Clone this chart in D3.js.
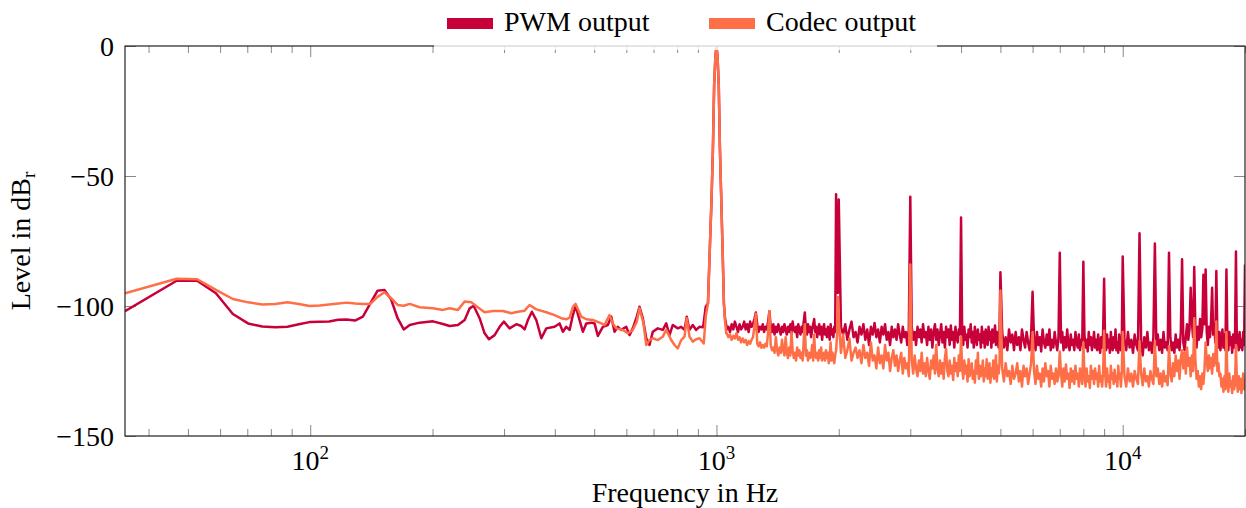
<!DOCTYPE html>
<html>
<head>
<meta charset="utf-8">
<style>
body { margin: 0; background: #fff; }
svg text { font-family: "Liberation Serif", "Times New Roman", "DejaVu Serif", serif; fill: #000; }
</style>
</head>
<body>
<div id="chart"></div>
<script src="https://d3js.org/d3.v7.min.js"></script>
<script>
// series names and colours
const seriesNames = ["PWM output", "Codec output"];
const seriesColors = ["#c8003a", "#ff6f47"];

// axis ticks
const xMajor = [100, 1000, 10000];
const xMajorExp = ["2", "3", "4"];
const xMinor = [40, 50, 60, 70, 80, 90, 200, 300, 400, 500, 600, 700, 800, 900,
  2000, 3000, 4000, 5000, 6000, 7000, 8000, 9000, 20000];
const yTicks = [0, -50, -100, -150];
const yTickLabels = ["0", "\u221250", "\u2212100", "\u2212150"];

// low part of the spectrum, [Hz, dB]
const pwmLow = [
  [35,-102],[46.9,-90.3],[52.7,-90.3],[58.6,-95.1],[64.5,-103.1],[70.3,-106.7],[76.2,-107.9],[82,-108.2],
  [87.9,-108],[93.75,-107],[99.6,-106.2],[105.5,-106.1],[111.3,-106],[117.2,-105.3],[123,-105.2],[128.9,-105.6],
  [134.8,-104.1],[140.6,-99],[146.5,-94.1],[152.3,-93.8],[158.2,-97.5],[164.1,-104.7],[169.9,-109],[175.8,-107.3],
  [185.9,-106.4],[200.5,-105.9],[212.2,-106.9],[220.4,-107.7],[231,-107.3],[240,-105.4],[246.9,-100.9],[252.5,-99.9],
  [261.2,-104.7],[268.7,-110.5],[275.4,-112.8],[284.4,-111.2],[292.6,-108],[299.8,-106],[309.6,-108.6],[321.6,-107],
  [330.8,-107.7],[337.1,-109],[343.4,-105.4],[351.3,-102.2],[360.2,-105.4],[370.6,-112.4],[381.2,-108.6],[399.5,-108],
  [411,-106.7],[418.8,-109.9],[426.9,-108],[435,-109.2],[443.2,-103.5],[450,-100],[460.3,-105.4],[469,-109.9],
  [478.1,-106.7],[491.9,-106.4],[501.1,-106.7],[510.5,-111.5],[525.2,-108],[540.3,-107.3],[550.8,-104.1],[561.2,-109.9],
  [571.7,-108],[582.9,-109.2],[599.6,-108],[610.9,-111.2],[622.4,-108.6],[636.6,-104.1],[646.5,-100.3],[658.7,-104.7],
  [671.6,-112.4],[684.2,-115],[697.1,-109.9],[717.1,-108.6],[737.8,-109.2],[752.2,-106.7],[766.3,-111.2],[780.8,-107.3],
  [803.2,-108.6],[818.9,-108],[834.3,-109.2],[845.1,-104.1],[858.2,-109.2],[874.4,-107.3],[891.3,-109.2],[908.2,-108],
  [927,-108.2],[941,-100.3],[953,-99],[962,-80],[972,-60],[980,-40],[987,-15],[994,-4],[1000,0],[1006,-4],
  [1013,-15],[1020,-40],[1028,-60],[1036,-80],[1043,-99],[1050,-105],[1057,-107.3]
];
const codecLow = [
  [35,-95.1],[46.9,-89.5],[52.7,-89.7],[58.6,-93.8],[64.5,-97.3],[70.3,-98.6],[76.2,-99.4],[82,-99.2],
  [87.9,-98.6],[93.75,-99.2],[99.6,-100],[105.5,-99.8],[111.3,-99.4],[117.2,-99],[123,-98.7],[128.9,-99],
  [134.8,-99.2],[140.6,-99.2],[146.5,-96.5],[152.3,-94.7],[158.2,-97],[164.1,-99.6],[169.9,-99.9],[175.8,-99.2],
  [185.9,-100.5],[200.5,-100.9],[212.2,-101.5],[220.4,-100.9],[231,-101.5],[240,-98.3],[249.5,-98.6],[258.6,-100.5],
  [268.7,-102.4],[281.6,-101.9],[298.1,-101.9],[312.6,-102.8],[324.5,-102.2],[337.1,-101.8],[346.7,-99.6],[360.2,-101.3],
  [381.2,-102.4],[399.5,-103.5],[415,-104.7],[426.9,-105.1],[435,-104.5],[443.2,-100.3],[450,-99.2],[464.8,-104.1],
  [478.1,-105.1],[496.3,-105.4],[515.5,-106.4],[530.3,-107.3],[545.5,-103.5],[555.8,-106.7],[566.6,-108.6],[588.2,-109.2],
  [605,-110.5],[622.4,-109.2],[636.6,-106],[646.5,-100.9],[661.3,-106.7],[671.6,-115],[684.2,-113.1],[697.1,-112.4],
  [717.1,-113.1],[737.8,-111.8],[752.2,-109.2],[773.8,-113.1],[788.4,-115],[803.2,-116.3],[818.9,-113.1],[834.3,-111.8],
  [845.1,-104.7],[858.2,-111.8],[874.4,-113.7],[891.3,-112.8],[908.2,-112.4],[930.5,-114.4],[941,-104.1],[953,-99],
  [962,-80],[972,-60],[980,-40],[987,-15],[994,-4],[1000,0],[1006,-4],[1013,-15],[1020,-40],[1028,-60],
  [1036,-80],[1043,-99],[1050,-106],[1057,-110.5]
];

// upper part: shared frequency grid (Hz) and levels (dB) for both outputs
const hzA = [
  1060,1070,1080,1090,1100,1110,1120,1130,1140,1150,
  1160,1170,1180,1190,1200,1210,1220,1230,1240,1250,
  1260,1270,1280,1290,1300,1310,1320,1330,1340,1350,
  1360,1370,1380,1390,1400,1410,1420,1430,1440,1450,
  1460,1470,1480,1490,1500,1510,1520,1530,1540,1550,
  1560,1570,1580,1590,1600,1610,1620,1630,1640,1650,
  1660,1670,1680,1690,1700,1710,1720,1730,1740,1750,
  1760,1770,1780,1790,1800,1810,1820,1830,1840,1850,
  1860,1870,1880,1890,1900,1910,1920,1930,1940,1950,
  1960,1970,1980,1990
];
const pwmA = [
  -109,-108,-110,-107,-109,-106,-108,-110,-107,-109,
  -108,-106,-109,-107,-110,-106,-108,-107,-105,-102.5,
  -107,-110,-108,-109,-107,-110,-108,-109,-106,-102,
  -108,-110,-107,-111,-108,-110,-107,-109,-111,-108,
  -110,-107,-109,-111,-108,-110,-107,-111,-106,-109,
  -110,-108,-112,-107,-109,-111,-108,-110,-106,-102.5,
  -109,-111,-107,-110,-108,-112,-109,-107,-105,-110,
  -108,-112,-109,-107,-111,-108,-113,-109,-107,-111,
  -109,-112,-108,-110,-113,-107,-111,-109,-112,-108,
  -110,-57,-92,-95
];
const codecA = [
  -110.5,-112,-111,-113,-111.5,-112.5,-110.5,-113,-112,-114,
  -112.5,-114,-113,-115,-113.5,-114.5,-113,-112,-108,-103,
  -114.5,-115.5,-114,-116,-115,-116,-114.5,-115.5,-110,-102,
  -115,-117,-116,-118,-112,-117,-119,-116,-118,-113,
  -117,-119,-112,-118,-120,-116,-119,-110,-117,-120,
  -118,-121,-116,-119,-117,-120,-118,-121,-113,-107,
  -119,-117,-121,-118,-120,-119,-115,-121,-111,-119,
  -120,-118,-121,-117,-120,-116,-121,-119,-118,-121,
  -117,-120,-118,-122,-119,-114,-121,-118,-120,-122,
  -119,-117,-112,-96.5
];

const hzB = [
  2000,2025,2050,2075,2100,2125,2150,2175,2200,2225,
  2250,2275,2300,2325,2350,2375,2400,2425,2450,2475,
  2500,2525,2550,2575,2600,2625,2650,2675,2700,2725,
  2750,2775,2800,2825,2850,2875,2900,2925,2950,2975,
  3000,3025,3050,3075,3100,3125,3150,3175,3200,3225,
  3250,3275,3300,3325,3350,3375,3400,3425,3450,3475,
  3500,3525,3550,3575,3600,3625,3650,3675,3700,3725,
  3750,3775,3800,3825,3850,3875,3900,3925,3950,3975,
  4000,4025,4050,4075,4100,4125,4150,4175,4200,4225,
  4250,4275,4300,4325,4350,4375,4400,4425,4450,4475,
  4500,4525,4550,4575,4600,4625,4650,4675,4700,4725,
  4750,4775,4800,4825,4850,4875,4900,4925,4950,4975
];
const pwmB = [
  -59,-108,-111,-107,-113,-109,-106,-112,-110,-114,
  -108,-111,-107,-113,-109,-115,-108,-111,-106.5,-112,
  -109,-114,-108,-111,-107,-113,-110,-115,-108,-112,
  -109,-113,-107,-111,-114,-108,-112,-110,-115,-109,
  -58,-108,-113,-110,-115,-108,-112,-109,-114,-107,
  -112,-110,-115,-108,-113,-109,-116,-110,-107,-113,
  -109,-115,-111,-107,-114,-110,-116,-108,-112,-109,
  -115,-107.5,-113,-110,-116,-108,-112,-114,-109,-111,
  -66,-110,-115,-108,-113,-111,-116,-109,-112,-107,
  -114,-110,-116,-108,-112,-115,-109,-113,-111,-116,
  -108,-114,-110,-116,-109,-112,-115,-108,-113,-110,
  -116,-109,-114,-111,-107.5,-115,-110,-113,-116,-109
];
const codecB = [
  -105,-118,-111,-120,-117,-112.5,-121,-118,-116,-120,
  -117,-122,-115,-120,-118,-123,-114,-121,-119,-124,
  -116,-122,-119,-124,-115,-121,-118,-125,-120,-117,
  -123,-119,-125,-121,-118,-126,-120,-124,-122,-127,
  -84,-121,-126,-119,-124,-127,-121,-125,-118,-126,
  -122,-127,-120,-125,-128,-121,-124,-119,-126,-115,
  -124,-127,-121,-126,-122,-128,-120,-116.5,-125,-127,
  -121,-126,-123,-128.5,-120,-125,-122,-127,-119,-125,
  -112,-124,-128,-121,-126,-123,-129,-120.5,-127,-124,
  -122,-128,-125,-129.5,-121,-126,-118,-128,-123,-127,
  -125,-121,-129,-124,-127,-120.5,-128,-125,-122,-129.5,
  -124,-127,-121,-128,-125,-119,-129,-123,-126,-122
];

const hzC = [
  5000,5050,5100,5150,5200,5250,5300,5350,5400,5450,
  5500,5550,5600,5650,5700,5750,5800,5850,5900,5950,
  6000,6050,6100,6150,6200,6250,6300,6350,6400,6450,
  6500,6550,6600,6650,6700,6750,6800,6850,6900,6950,
  7000,7050,7100,7150,7200,7250,7300,7350,7400,7450,
  7500,7550,7600,7650,7700,7750,7800,7850,7900,7950,
  8000,8050,8100,8150,8200,8250,8300,8350,8400,8450,
  8500,8550,8600,8650,8700,8750,8800,8850,8900,8950,
  9000,9050,9100,9150,9200,9250,9300,9350,9400,9450,
  9500,9550,9600,9650,9700,9750,9800,9850,9900,9950
];
const pwmC = [
  -87,-110,-116,-112,-117,-109,-114,-111,-117,-110,
  -115,-112,-117,-109,-113,-116,-110,-114,-117,-111,
  -94.5,-113,-117,-110,-115,-112,-117.5,-109,-114,-116,
  -111,-115,-109,-117,-113,-116,-110,-114,-117,-112,
  -79.5,-114,-110,-117,-112,-116,-109,-115,-117,-111,
  -115,-113,-117,-110,-114,-116,-111,-117,-113,-115,
  -83,-111,-116,-113,-117.5,-110,-115,-112,-117,-114,
  -110,-116,-113,-117,-111,-115,-118,-112,-116,-110,
  -89.5,-114,-117,-111,-116,-113,-118,-110,-115,-117,
  -112,-116,-109,-117,-114,-118,-111,-115,-117,-113
];
const codecC = [
  -94,-124,-129,-122,-127,-125,-130,-123,-128,-126,
  -122,-129,-125,-131,-123,-127,-124,-130,-126,-122,
  -110,-125,-130,-123,-128,-126,-131,-124,-129,-122,
  -127,-125,-131,-123,-128,-126,-130,-124,-129,-127,
  -117.5,-126,-131,-124,-129,-122.5,-128,-126,-131.5,-124,
  -129,-125,-130,-123,-128,-126,-131,-124,-127,-130,
  -114,-126,-131,-124,-129,-127,-131.5,-123,-128,-125,
  -130,-124,-128,-126,-131,-123,-129,-127,-131,-125,
  -109.5,-126,-131,-124,-129,-127,-131.5,-123,-128,-126,
  -130,-124.5,-129,-127,-131,-123,-128,-126,-131,-125
];

const hzD = [
  10000,10100,10200,10300,10400,10500,10600,10700,10800,10900,
  11000,11100,11200,11300,11400,11500,11600,11700,11800,11900,
  12000,12100,12200,12300,12400,12500,12600,12700,12800,12900,
  13000,13100,13200,13300,13400,13500,13600,13700,13800,13900,
  14000,14100,14200,14300,14400,14500,14600,14700,14800,14900,
  15000,15100,15200,15300,15400,15500,15600,15700,15800,15900,
  16000,16100,16200,16300,16400,16500,16600,16700,16800,16900,
  17000,17100,17200,17300,17400,17500,17600,17700,17800,17900,
  18000,18100,18200,18300,18400,18500,18600,18700,18800,18900,
  19000,19100,19200,19300,19400,19500,19600,19700,19800,19900,
  20000
];
const pwmD = [
  -81,-113,-117,-110,-116,-113,-118,-111,-115,-117,
  -72,-114,-119,-112,-116,-110,-117,-114,-118,-112,
  -76,-115,-111,-117,-113,-118,-110,-116,-114,-117,
  -79.5,-112,-117,-114,-118,-111,-116,-113,-117,-110,
  -82,-114,-117,-112,-107,-113,-109,-93,-106,-112,
  -85,-110,-116,-108,-113,-105,-112,-109,-88,-107,
  -86,-110,-115,-108,-112,-106,-93,-111,-107,-114,
  -86.5,-112,-116,-110,-117,-113,-109,-116,-111,-117,
  -86,-113,-117,-110,-115,-112,-118,-111,-116,-113,
  -79,-115,-111,-117,-110,-116,-113,-117,-110,-115,
  -84
];
const codecD = [
  -110,-127,-131,-124,-129,-126,-131,-125,-128,-130,
  -113.5,-126,-130.5,-124,-129,-127,-131,-125,-128,-130,
  -113.5,-127,-124,-130,-126,-131,-125,-129,-127,-130.5,
  -115.5,-126,-129,-122,-127,-119,-125,-121,-128,-120,
  -117,-124,-118,-126,-116,-123,-120,-127,-119,-125,
  -104.7,-121,-128,-125,-131,-127,-132,-126,-130,-124,
  -114,-121,-125,-119,-124,-120,-126,-118.5,-123,-121,
  -106,-125,-122,-127,-126,-131,-128,-133,-127,-132,
  -110,-128,-133,-126,-131,-129,-133.5,-127,-132,-130,
  -115,-129,-133,-127,-132,-128,-133.5,-130,-126,-132,
  -128
];

// join the pieces into [Hz, dB] pairs
const pairs = (hz, db) => hz.map((f, i) => [f, db[i]]);
const pwm = pwmLow.concat(pairs(hzA, pwmA), pairs(hzB, pwmB), pairs(hzC, pwmC), pairs(hzD, pwmD));
const codec = codecLow.concat(pairs(hzA, codecA), pairs(hzB, codecB), pairs(hzC, codecC), pairs(hzD, codecD));

const width = 1246, height = 508;
const plotL = 125, plotR = 1245, plotT = 46, plotB = 436;

const x = d3.scaleLog().domain([35, 20000]).range([plotL, plotR]);
const y = d3.scaleLinear().domain([-150, 0]).range([plotB, plotT]);

const svg = d3.select("#chart").append("svg")
  .attr("width", width)
  .attr("height", height)
  .attr("font-family", "'Liberation Serif', 'Times New Roman', 'DejaVu Serif', serif");

svg.append("defs").append("clipPath").attr("id", "plotclip")
  .append("rect")
  .attr("x", plotL).attr("y", plotT)
  .attr("width", plotR - plotL).attr("height", plotB - plotT);

// ticks (pointing inward on every side)
function tickStyle(g) {
  g.select(".domain").remove();
  g.selectAll(".tick line").attr("stroke", "#8a8a8a").attr("stroke-width", 1);
}
svg.append("g").attr("transform", `translate(0,${plotB})`)
  .call(d3.axisBottom(x).tickValues(xMajor).tickSize(-11).tickFormat(""))
  .call(tickStyle);
svg.append("g").attr("transform", `translate(0,${plotB})`)
  .call(d3.axisBottom(x).tickValues(xMinor).tickSize(-7).tickFormat(""))
  .call(tickStyle);
svg.append("g").attr("transform", `translate(0,${plotT})`)
  .call(d3.axisTop(x).tickValues(xMajor).tickSize(-11).tickFormat(""))
  .call(tickStyle);
svg.append("g").attr("transform", `translate(0,${plotT})`)
  .call(d3.axisTop(x).tickValues(xMinor).tickSize(-7).tickFormat(""))
  .call(tickStyle);
svg.append("g").attr("transform", `translate(${plotL},0)`)
  .call(d3.axisLeft(y).tickValues(yTicks).tickSize(-11).tickFormat(""))
  .call(tickStyle);
svg.append("g").attr("transform", `translate(${plotR},0)`)
  .call(d3.axisRight(y).tickValues(yTicks).tickSize(-11).tickFormat(""))
  .call(tickStyle);

// spectra
const line = d3.line()
  .x(d => x(d[0]))
  .y(d => y(d[1]));

const plot = svg.append("g").attr("clip-path", "url(#plotclip)");
[pwm, codec].forEach((data, i) => {
  plot.append("path")
    .datum(data)
    .attr("fill", "none")
    .attr("stroke", seriesColors[i])
    .attr("stroke-width", 2.5)
    .attr("stroke-linejoin", "round")
    .attr("d", line);
});

// frame
svg.append("rect")
  .attr("x", plotL).attr("y", plotT)
  .attr("width", plotR - plotL).attr("height", plotB - plotT)
  .attr("fill", "none")
  .attr("stroke", "#222")
  .attr("stroke-width", 1.2);

// tick labels
const xl = svg.append("g");
xMajor.forEach((v, i) => {
  const t = xl.append("text")
    .attr("x", x(v))
    .attr("y", 470)
    .attr("text-anchor", "middle")
    .style("font-size", "28px");
  t.append("tspan").text("10");
  t.append("tspan").attr("dy", -11).style("font-size", "19px").text(xMajorExp[i]);
});
svg.append("g").selectAll("text")
  .data(yTicks)
  .join("text")
  .attr("x", 114)
  .attr("y", d => y(d))
  .attr("dy", "0.34em")
  .attr("text-anchor", "end")
  .style("font-size", "28px")
  .text((d, i) => yTickLabels[i]);

// axis titles
svg.append("text")
  .attr("x", (plotL + plotR) / 2)
  .attr("y", 502)
  .attr("text-anchor", "middle")
  .style("font-size", "28px")
  .text("Frequency in Hz");

const yt = svg.append("text")
  .attr("transform", `translate(30,${(plotT + plotB) / 2}) rotate(-90)`)
  .attr("text-anchor", "middle")
  .style("font-size", "28px");
yt.append("tspan").text("Level in dB");
yt.append("tspan").attr("dy", 5).style("font-size", "19px").text("r");

// legend
const legend = svg.append("g");
legend.append("rect")
  .attr("x", 434).attr("y", 0)
  .attr("width", 503).attr("height", 50)
  .attr("fill", "#fff")
  .attr("fill-opacity", 0.8);
const legendX = [447, 709];
seriesNames.forEach((name, i) => {
  legend.append("rect")
    .attr("x", legendX[i]).attr("y", 18)
    .attr("width", 46).attr("height", 11)
    .attr("fill", seriesColors[i]);
  legend.append("text")
    .attr("x", legendX[i] + 57)
    .attr("y", 31)
    .style("font-size", "28px")
    .text(name);
});
</script>
</body>
</html>
